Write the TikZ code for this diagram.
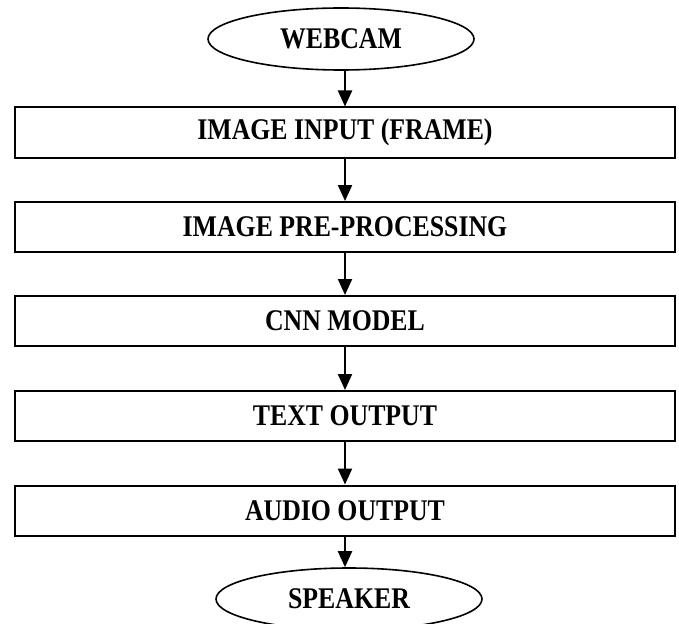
\documentclass[tikz,border=0pt]{standalone}
\usepackage{fontspec}
\setmainfont{Liberation Serif}[FakeStretch=0.86]
\usetikzlibrary{shapes.geometric,arrows.meta}

\tikzset{
  stage/.style={draw=black, line width=2pt, rectangle, minimum width=660pt,
    minimum height=50pt, inner sep=0pt, font=\fontsize{30}{34}\selectfont\bfseries},
  terminal/.style={draw=black, line width=1.6pt, ellipse, minimum width=266pt,
    minimum height=62pt, inner sep=0pt, font=\fontsize{30}{34}\selectfont\bfseries},
  flow/.style={draw=black, line width=2.2pt, -{Triangle[length=16pt,width=14pt]}}
}

\begin{document}
\begin{tikzpicture}[x=1pt,y=-1pt]
  \useasboundingbox (0,0) rectangle (679,623);
  \clip (0,0) rectangle (679,623);

  \node[terminal] (cam) at (341,39) {WEBCAM};
  \node[stage] (frame) at (345,132.5) {IMAGE INPUT (FRAME)};
  \node[stage] (prep)  at (345,227)   {IMAGE PRE-PROCESSING};
  \node[stage] (cnn)   at (345,321)   {CNN MODEL};
  \node[stage] (text)  at (345,416)   {TEXT OUTPUT};
  \node[stage] (audio) at (345,510.5) {AUDIO OUTPUT};
  \node[terminal] (spk) at (349,599) {SPEAKER};

  \draw[flow] (cam.south -| frame.north) -- (frame.north);
  \draw[flow] (frame.south) -- (prep.north);
  \draw[flow] (prep.south) -- (cnn.north);
  \draw[flow] (cnn.south) -- (text.north);
  \draw[flow] (text.south) -- (audio.north);
  \draw[flow] (audio.south) -- (audio.south |- spk.north);
\end{tikzpicture}
\end{document}
